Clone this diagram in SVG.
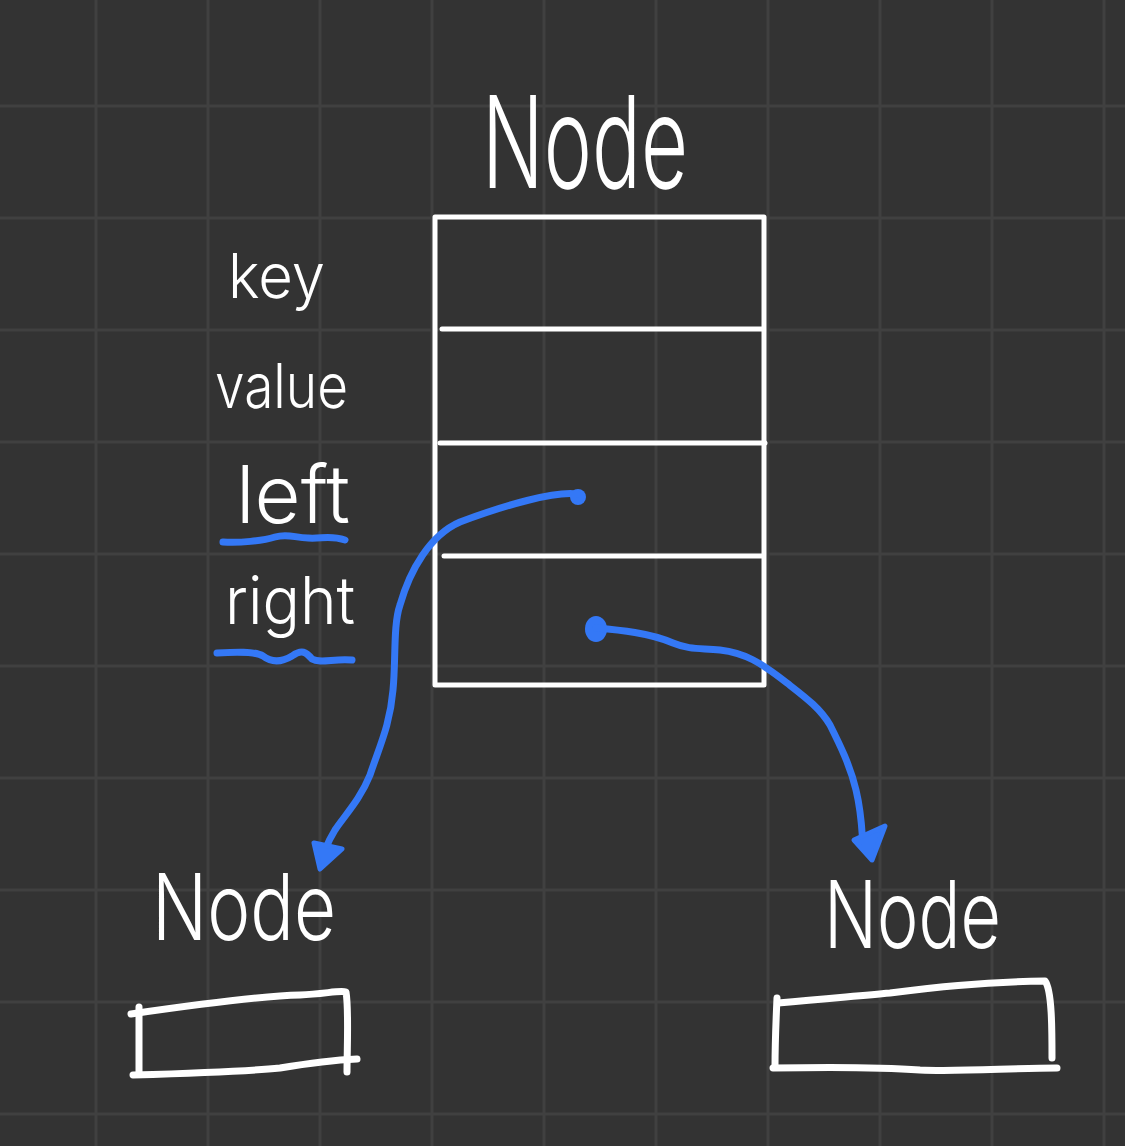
<svg xmlns="http://www.w3.org/2000/svg" width="1125" height="1146" viewBox="0 0 1125 1146">
<style>
.grid{stroke:#404040;stroke-width:3}
.w{fill:none;stroke:#ffffff;stroke-linecap:round;stroke-linejoin:round}
.b{fill:none;stroke:#3478f6;stroke-width:7;stroke-linecap:round;stroke-linejoin:round}
.t{fill:#ffffff;font-family:Inter,"Liberation Sans",sans-serif;font-weight:300}
</style>
<rect width="1125" height="1146" fill="#333333"/>
<g id="grid" class="grid">
<line x1="96" y1="0" x2="96" y2="1146"/><line x1="208" y1="0" x2="208" y2="1146"/><line x1="320" y1="0" x2="320" y2="1146"/><line x1="432" y1="0" x2="432" y2="1146"/><line x1="544" y1="0" x2="544" y2="1146"/><line x1="656" y1="0" x2="656" y2="1146"/><line x1="768" y1="0" x2="768" y2="1146"/><line x1="880" y1="0" x2="880" y2="1146"/><line x1="992" y1="0" x2="992" y2="1146"/><line x1="1104" y1="0" x2="1104" y2="1146"/>
<line x1="0" y1="106" x2="1125" y2="106"/><line x1="0" y1="218" x2="1125" y2="218"/><line x1="0" y1="330" x2="1125" y2="330"/><line x1="0" y1="442" x2="1125" y2="442"/><line x1="0" y1="554" x2="1125" y2="554"/><line x1="0" y1="666" x2="1125" y2="666"/><line x1="0" y1="778" x2="1125" y2="778"/><line x1="0" y1="890" x2="1125" y2="890"/><line x1="0" y1="1002" x2="1125" y2="1002"/><line x1="0" y1="1114" x2="1125" y2="1114"/>
</g>
<g id="node-main">
<text class="t" x="482" y="188" font-size="128" textLength="206" lengthAdjust="spacingAndGlyphs">Node</text>
<rect x="435" y="217" width="329" height="468" class="w" stroke-width="5"/>
<line x1="442" y1="329" x2="762" y2="329" class="w" stroke-width="5"/>
<line x1="440" y1="443" x2="765" y2="443" class="w" stroke-width="5"/>
<line x1="444" y1="556" x2="762" y2="556" class="w" stroke-width="5"/>
</g>
<g id="labels">
<text class="t" x="228" y="298" font-size="62" textLength="97" lengthAdjust="spacingAndGlyphs">key</text>
<text class="t" x="215" y="408" font-size="62" textLength="133" lengthAdjust="spacingAndGlyphs">value</text>
<text class="t" x="236" y="523" font-size="80" textLength="114" lengthAdjust="spacingAndGlyphs">left</text>
<text class="t" x="225" y="624" font-size="66" textLength="130" lengthAdjust="spacingAndGlyphs">right</text>
<path class="b" d="M223,542 C240,543 262,541 275,537 C288,533 295,538 308,538 C322,539 330,535 345,540"/>
<path class="b" d="M217,653 C235,652 255,651 263,656 C272,663 282,662 292,656 C302,649 306,652 312,659 C320,664 335,658 352,660"/>
</g>
<g id="node-left">
<text class="t" x="152" y="940" font-size="92" textLength="184" lengthAdjust="spacingAndGlyphs">Node</text>
<path class="w" stroke-width="7" d="M131,1014 C200,1004 260,996 300,995 C325,994 340,990 346,992 C349,1010 347,1050 347,1072"/>
<path class="w" stroke-width="7" d="M139,1007 C139,1030 139,1055 139,1074"/>
<path class="w" stroke-width="7" d="M133,1075 C200,1073 250,1071 280,1068 C310,1063 335,1060 357,1059"/>
</g>
<g id="node-right">
<text class="t" x="824" y="948" font-size="94" textLength="177" lengthAdjust="spacingAndGlyphs">Node</text>
<path class="w" stroke-width="7" d="M778,1003 C830,998 860,996 890,993 C930,988 980,982 1045,981 C1052,990 1052,1030 1052,1058"/>
<path class="w" stroke-width="7" d="M777,998 C776,1020 775,1045 775,1067"/>
<path class="w" stroke-width="7" d="M773,1068 C830,1067 880,1067 920,1070 C960,1072 1010,1068 1057,1068"/>
</g>
<g id="connectors">
<circle cx="578" cy="497" r="8" fill="#3478f6"/>
<path class="b" d="M577,494 C555,491 505,505 460,522 C430,535 410,570 400,605 C393,625 396,660 393,690 C390,725 380,745 370,775 C360,800 345,815 335,830 C330,838 327,845 325,850"/>
<path fill="#3478f6" stroke="#3478f6" stroke-width="5" stroke-linejoin="round" d="M314,843 L342,849 L320,869 Z"/>
<ellipse cx="596" cy="629" rx="11" ry="13" fill="#3478f6"/>
<path class="b" d="M596,628 C620,630 650,633 673,643 C690,650 700,648 720,650 C745,653 760,662 787,683 C805,697 820,708 830,725 C840,745 850,765 856,790 C862,815 862,835 863,845"/>
<path fill="#3478f6" stroke="#3478f6" stroke-width="5" stroke-linejoin="round" d="M854,840 L885,826 L872,860 Z"/>
</g>
</svg>
